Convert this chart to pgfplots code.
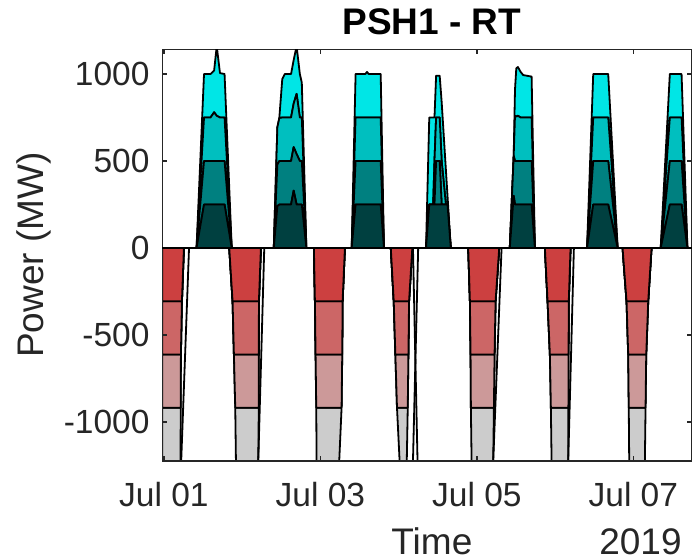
\documentclass[border=0pt]{standalone}
\usepackage{fontspec}
\setmainfont{Liberation Sans}
\usepackage{pgfplots}
\usepackage{pgfplotstable}
\pgfplotsset{compat=1.18}

\definecolor{g1}{RGB}{0,64,64}
\definecolor{g2}{RGB}{0,128,128}
\definecolor{g3}{RGB}{0,191,191}
\definecolor{g4}{RGB}{0,230,230}
\definecolor{p1}{RGB}{204,64,64}
\definecolor{p2}{RGB}{204,102,102}
\definecolor{p3}{RGB}{204,153,153}
\definecolor{p4}{RGB}{204,204,204}
\definecolor{axisgray}{RGB}{38,38,38}

% generation of the four units (MW), hours from Jul 01 00:00
\pgfplotstableread{
t g1 g2 g3 g4
-0.5 0 0 0 0
10.0 0 0 0 0
12.3 250 250 250 250
14.3 250 250 250 250
15.4 250 250 280 240
16.2 250 250 260 400
17.2 250 250 250 255
18.6 250 250 250 250
20.8 0 0 0 0
33.7 0 0 0 0
34.8 240 240 214 0
35.4 250 250 247 0
36.3 250 250 250 220
37.1 250 250 250 250
39.0 250 250 250 250
39.8 330 250 250 250
40.7 250 290 346 274
41.7 250 250 250 250
42.3 250 250 250 200
43.7 0 0 0 0
57.6 0 0 0 0
58.8 250 250 250 250
61.8 250 250 250 250
62.3 250 250 250 262
62.8 250 250 250 250
66.5 250 250 250 250
67.5 0 0 0 0
80.4 0 0 0 0
81.4 250 0 0 500
82.6 250 0 0 500
83.0 250 0 250 250
83.5 250 250 250 240
84.6 250 250 250 240
85.2 250 0 250 340
86.5 250 0 0 200
87.0 250 0 0 50
88.0 0 0 0 0
106.1 0 0 0 0
107.3 300 230 0 0
107.7 250 250 260 150
108.1 250 250 255 278
108.6 250 250 260 280
109.4 250 250 250 263
110.2 250 250 250 244
112.8 250 250 250 235
113.8 0 0 0 0
129.8 0 0 0 0
131.7 250 250 250 250
136.3 250 250 250 250
139.2 0 0 0 0
152.4 0 0 0 0
155.2 250 250 250 250
158.8 250 250 250 250
160.6 0 0 0 0
162 0 0 0 0
}\gen

% pumping of the four units (MW)
\pgfplotstableread{
t p1 p2 p3 p4
-0.5 -306 -306 -306 -306
5.10 -306 -306 -306 -306
5.15 -306 -306 -306 0
5.21 -306 -306 0 0
5.52 -306 0 0 0
6.13 0 0 0 0
20.04 0 0 0 0
21.06 -306 0 0 0
21.47 -306 -306 0 0
21.88 -306 -306 -306 0
22.09 -306 -306 -306 -306
28.94 -306 -306 -306 -306
29.10 -306 -306 -306 0
29.12 -306 -306 0 0
29.14 -306 0 0 0
29.75 0 0 0 0
46.01 0 0 0 0
46.32 -306 0 0 0
46.52 -306 -306 0 0
46.73 -306 -306 -306 0
46.83 -306 -306 -306 -306
53.78 -306 -306 -306 -306
54.50 -306 -306 -306 0
54.70 -306 -306 0 0
54.81 -306 0 0 0
55.52 0 0 0 0
69.6 0 0 0 0
70.5 -306 0 0 0
71.0 -306 -306 0 0
71.5 -306 -306 -306 0
72.3 -306 -306 -306 -306
74.5 -306 -306 -306 -306
74.8 -306 -306 -306 0
75.0 -306 -306 0 0
75.2 -306 0 0 0
76.2 0 0 0 0
93.35 0 0 0 0
93.87 -306 0 0 0
94.07 -306 -306 0 0
94.17 -306 -306 -306 0
94.38 -306 -306 -306 -306
101.02 -306 -306 -306 -306
101.23 -306 -306 -306 0
101.43 -306 -306 0 0
101.74 -306 0 0 0
102.86 0 0 0 0
116.87 0 0 0 0
117.69 -306 0 0 0
118.40 -306 -306 0 0
118.71 -306 -306 -306 0
118.92 -306 -306 -306 -306
124.03 -306 -306 -306 -306
124.08 -306 -306 -306 0
124.13 -306 -306 0 0
124.20 -306 0 0 0
124.74 0 0 0 0
140.70 0 0 0 0
141.92 -306 0 0 0
142.43 -306 -306 0 0
142.60 -306 -306 -306 0
142.74 -306 -306 -306 -306
147.55 -306 -306 -306 -306
147.75 -306 -306 -306 0
147.96 -306 -306 0 0
148.57 -306 0 0 0
149.59 0 0 0 0
162 0 0 0 0
}\pump

\pgfplotsset{
  psh/.style={
    scale only axis, width=264.85pt, height=205.85pt,
    xmin=-0.5, xmax=162, ymin=-1224, ymax=1142,
  },
  lay/.style={draw=black, line width=0.9pt, line join=round, fill=#1},
}

\begin{document}
\begin{tikzpicture}
\path[use as bounding box] (-81.15pt,-49.5pt) rectangle (264.85pt,230.5pt);

\begin{axis}[psh, hide axis, stack plots=y]
\addplot[lay=p1] table[x=t,y=p1]{\pump} \closedcycle;
\addplot[lay=p2] table[x=t,y=p2]{\pump} \closedcycle;
\addplot[lay=p3] table[x=t,y=p3]{\pump} \closedcycle;
\addplot[lay=p4] table[x=t,y=p4]{\pump} \closedcycle;
\end{axis}

\begin{axis}[psh, hide axis]
\addplot[black, line width=0.9pt] coordinates {(5.3,-1224) (7.7,0)};
\addplot[black, line width=0.9pt] coordinates {(28.94,-1224) (30.78,0)};
\addplot[black, line width=0.9pt] coordinates {(76.4,0) (77.8,-1224)};
\addplot[black, line width=0.9pt] coordinates {(78.0,0) (76.4,-1224)};
\addplot[black, line width=0.9pt] coordinates {(101.02,-1224) (103.58,0)};
\addplot[black, line width=0.9pt] coordinates {(124.03,-1224) (125.77,0)};
\end{axis}

\begin{axis}[psh, stack plots=y, name=main,
  axis line style={draw=axisgray, line width=0.7pt},
  tick align=inside, major tick length=2.5pt,
  every tick/.style={draw=axisgray, line width=0.7pt},
  xtick={0,48,96,144}, xticklabels={Jul 01,Jul 03,Jul 05,Jul 07},
  ytick={-1000,-500,0,500,1000}, yticklabels={-1000,-500,0,500,1000},
  ticklabel style={font=\fontsize{16.75}{18}\selectfont, text=axisgray, inner sep=0pt},
  yticklabel style={xshift=-6.2pt},
  xticklabel style={yshift=-10.5pt},
  title={PSH1 - RT},
  title style={font=\bfseries\fontsize{18.5}{20}\selectfont, at={(axis description cs:0.509,1)}, anchor=base, yshift=1.4pt, inner sep=0pt},
  xlabel={Time},
  xlabel style={font=\fontsize{18.5}{20}\selectfont, text=axisgray, at={(axis description cs:0.509,0)}, anchor=base, yshift=-46.75pt, inner sep=0pt},
  ylabel={Power (MW)},
  ylabel style={font=\fontsize{18.5}{20}\selectfont, text=axisgray, at={(axis description cs:-0.2422,0.5)}, anchor=center, inner sep=0pt},
]
\addplot[lay=g1] table[x=t,y=g1]{\gen} \closedcycle;
\addplot[lay=g2] table[x=t,y=g2]{\gen} \closedcycle;
\addplot[lay=g3] table[x=t,y=g3]{\gen} \closedcycle;
\addplot[lay=g4] table[x=t,y=g4]{\gen} \closedcycle;
\end{axis}
\node[font=\fontsize{18.5}{20}\selectfont, text=axisgray, anchor=base east, inner sep=0pt] at ([xshift=-5pt,yshift=-46.75pt]main.south east) {2019};
\end{tikzpicture}
\end{document}
